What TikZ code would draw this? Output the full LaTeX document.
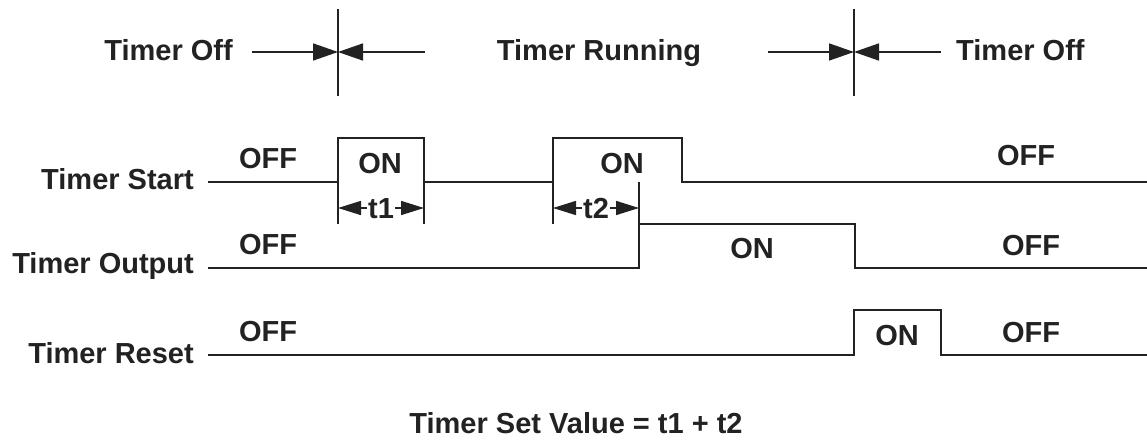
\documentclass[tikz,border=0pt]{standalone}
\usepackage{fontspec}
\setmainfont{Liberation Sans}
\usetikzlibrary{arrows.meta}
\definecolor{ink}{HTML}{222222}
\tikzset{
  lbl/.style={inner sep=0pt, font=\fontsize{29}{32}\selectfont\bfseries, text=ink},
  wave/.style={draw=ink, line width=1.8pt, line join=miter},
  tick/.style={draw=ink, line width=1.8pt},
  bigarrow/.style={draw=ink, line width=1.6pt, -{Triangle[length=25pt,width=17pt]}},
  tarrow/.style={draw=ink, line width=1.6pt, {Triangle[length=23pt,width=14pt]}-{Triangle[length=23pt,width=14pt]}}
}
\begin{document}
\begin{tikzpicture}[x=1pt,y=-1pt]
\useasboundingbox (0,0) rectangle (1147,441);
% top markers
\coordinate (m1top) at (338,9);   \coordinate (m1bot) at (338,96);
\coordinate (m2top) at (854,9);   \coordinate (m2bot) at (854,96);
\coordinate (m1) at (338,52);     \coordinate (m2) at (854,52);
\coordinate (a1) at (252,52);     \coordinate (a2) at (425,52);
\coordinate (a3) at (768,52);     \coordinate (a4) at (941,52);
\draw[tick] (m1top) -- (m1bot);
\draw[tick] (m2top) -- (m2bot);
\draw[bigarrow] (a1) -- (m1);
\draw[bigarrow] (a2) -- (m1);
\draw[bigarrow] (a3) -- (m2);
\draw[bigarrow] (a4) -- (m2);
\node[lbl, anchor=base east] (off1) at (233,61) {Timer Off};
\node[lbl, anchor=base] (run) at (599,61) {Timer Running};
\node[lbl, anchor=base west] (off2) at (956,61) {Timer Off};
% row labels
\node[lbl, anchor=base east] (lstart) at (194,189) {Timer Start};
\node[lbl, anchor=base east] (lout) at (194,273) {Timer Output};
\node[lbl, anchor=base east] (lreset) at (194,363) {Timer Reset};
% waveforms
\draw[wave] (208,182) -- (338,182) -- (338,138) -- (424,138) -- (424,182)
  -- (553,182) -- (553,138) -- (682,138) -- (682,182) -- (1147,182);
\draw[wave] (208,268) -- (639,268) -- (639,224) -- (855,224) -- (855,268) -- (1147,268);
\draw[wave] (208,355) -- (854,355) -- (854,310) -- (941,310) -- (941,355) -- (1147,355);
% ticks
\coordinate (t1a) at (338,208); \coordinate (t1b) at (424,208);
\coordinate (t2a) at (553,208); \coordinate (t2b) at (639,208);
\draw[tick] (338,182) -- (338,224);
\draw[tick] (424,182) -- (424,224);
\draw[tick] (553,182) -- (553,224);
\draw[tick] (639,182) -- (639,224);
\draw[tarrow] (t1a) -- (t1b);
\draw[tarrow] (t2a) -- (t2b);
\node[lbl, anchor=base, fill=white, inner xsep=1pt] (t1) at (381,218) {t1};
\node[lbl, anchor=base, fill=white, inner xsep=1pt] (t2) at (596,218) {t2};
% state labels
\node[lbl, anchor=base] (s1) at (268,168) {OFF};
\node[lbl, anchor=base] (s2) at (380,173) {ON};
\node[lbl, anchor=base] (s3) at (622,173) {ON};
\node[lbl, anchor=base] (s4) at (1026,165) {OFF};
\node[lbl, anchor=base] (o1) at (268,254) {OFF};
\node[lbl, anchor=base] (o2) at (752,258) {ON};
\node[lbl, anchor=base] (o3) at (1031,255) {OFF};
\node[lbl, anchor=base] (r1) at (268,341) {OFF};
\node[lbl, anchor=base] (r2) at (897,345) {ON};
\node[lbl, anchor=base] (r3) at (1031,342) {OFF};
\node[lbl, anchor=base] (eq) at (576,433) {Timer Set Value = t1 + t2};
\end{tikzpicture}
\end{document}
